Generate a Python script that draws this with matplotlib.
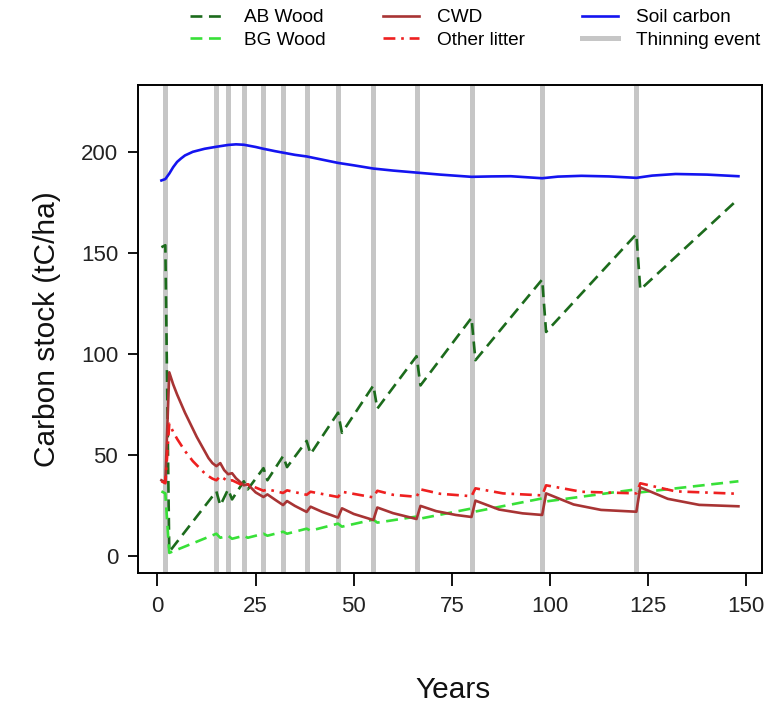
import matplotlib
matplotlib.use('Agg')
import matplotlib.pyplot as plt
from matplotlib.lines import Line2D

plt.rcParams['font.family'] = ['Liberation Sans', 'DejaVu Sans']

# thinning / harvest years
thinning_years = [2, 15, 18, 22, 27, 32, 38, 46, 55, 66, 80, 98, 122]

# above-ground wood (tC/ha)
ab_years = [1, 2, 3, 15, 16, 18, 19, 22, 23, 27, 28, 32, 33, 38, 39, 46, 47,
            55, 56, 66, 67, 80, 81, 98, 99, 122, 123, 148]
ab_wood = [153, 154, 2, 32, 25, 33, 28, 37, 33, 43.5, 37.5, 49.5, 44, 57, 50.5,
           71, 61, 84.5, 73, 99, 84.5, 118, 97, 137, 111, 159.5, 132, 177]

# below-ground wood (tC/ha)
bg_years = ab_years
bg_wood = [32, 31, 1.5, 11, 9, 10, 8.5, 10, 9, 11, 10, 12, 11, 13.5, 12.5,
           16, 14.5, 18, 16.5, 19.5, 18.5, 23.5, 22, 28.5, 27, 33, 31.5, 37]

# coarse woody debris (tC/ha)
cwd_years = [1, 2, 3, 4, 5, 6, 7, 8, 9, 10, 11, 12, 13, 14, 15, 16, 17, 18, 19,
             20, 22, 23, 25, 27, 28, 30, 32, 33, 35, 38, 39, 42, 46, 47, 50, 55,
             56, 60, 66, 67, 71, 76, 80, 81, 87, 93, 98, 99, 106, 113, 122, 123,
             130, 138, 148]
cwd = [37.5, 36.5, 91, 85, 80, 75.5, 71, 67, 63, 59, 55.5, 52, 48.5, 46,
       44.5, 46, 42.5, 40.5, 41, 38.5, 35, 35.5, 31.5, 29.2, 30.5, 27.8, 25.2,
       27.2, 24.8, 21.8, 24.4, 21.8, 19, 23.6, 20.8, 17.8, 24, 21.2, 18.3, 24.8,
       22.2, 20.3, 19.3, 27.4, 23, 21.1, 20.3, 31, 25.5, 22.8, 21.9, 34, 28.3,
       25.3, 24.6]

# other litter (tC/ha)
lit_years = [1, 2, 3, 4, 5, 6, 7, 8, 9, 10, 11, 12, 13, 14, 15, 16, 18, 19, 22,
             23, 27, 28, 32, 33, 38, 39, 46, 47, 55, 56, 60, 66, 67, 72, 80, 81,
             88, 98, 99, 108, 122, 123, 132, 148]
litter = [37, 36, 65.5, 61.5, 58, 55, 52, 49.5, 47, 45, 43, 41, 39.5, 38.3,
          37.5, 39.5, 37, 37.5, 34.7, 35.5, 32.3, 33, 31.2, 32.5, 30.3, 31.8,
          29.2, 31.8, 29, 32.3, 30.3, 29.3, 33, 30.8, 29.6, 33.5, 31, 30, 35,
          31.8, 31, 36, 32, 30.8]

# soil carbon (tC/ha)
soil_years = [1, 2, 3, 4, 5, 6, 7, 9, 12, 15, 18, 20, 22, 25, 27, 30, 35, 38,
              42, 46, 50, 55, 60, 66, 72, 80, 85, 90, 98, 102, 108, 115, 122,
              126, 132, 140, 148]
soil = [186.1, 186.8, 189.5, 192.7, 195.3, 197, 198.5, 200.3, 201.8, 202.8,
        203.7, 204, 203.8, 202.7, 201.8, 200.6, 198.8, 198, 196.4, 194.8, 193.6,
        192, 191, 190, 189, 187.9, 188.1, 188.2, 187.2, 188, 188.4, 188.1, 187.4,
        188.5, 189.3, 189, 188.2]

fig = plt.figure(figsize=(7.78, 7.08), dpi=100)
ax = fig.add_axes([0.1778, 0.1903, 0.9788 - 0.1778, 0.8799 - 0.1903])

grey = '#c6c6c6'
for yr in thinning_years:
    ax.axvline(yr, color=grey, lw=3.6, zorder=1)

lw = 1.9
ab_line, = ax.plot(ab_years, ab_wood, color='#1c6b1c', lw=lw, dashes=(4.5, 2.5), zorder=3)
bg_line, = ax.plot(bg_years, bg_wood, color='#38e038', lw=lw, dashes=(4.5, 2.5), zorder=3)
cwd_line, = ax.plot(cwd_years, cwd, color='#a83434', lw=lw, zorder=3)
lit_line, = ax.plot(lit_years, litter, color='#ee2020', lw=lw,
                    dashes=(4.5, 2.2, 1, 2.2), zorder=3)
soil_line, = ax.plot(soil_years, soil, color='#1414f0', lw=lw, zorder=4)
thin_handle = Line2D([], [], color=grey, lw=3.6)

ax.set_xlim(-4.88, 153.88)
ax.set_ylim(-8.6, 233.4)
ax.set_xticks([0, 25, 50, 75, 100, 125, 150])
ax.set_yticks([0, 50, 100, 150, 200])
ax.tick_params(axis='x', length=9.5, width=1.3, pad=7, labelsize=16,
               labelcolor='#222222')
ax.tick_params(axis='y', length=7.5, width=1.3, pad=7, labelsize=16,
               labelcolor='#222222')
for sp in ax.spines.values():
    sp.set_linewidth(1.4)

ax.set_ylabel('Carbon stock (tC/ha)', fontsize=21.5, color='#111111')
ax.yaxis.label.set_va('center')
ax.yaxis.set_label_coords(-0.147, 0.5)
ax.set_xlabel('Years', fontsize=21.5, color='#111111')
ax.xaxis.label.set_va('center')
ax.xaxis.set_label_coords(0.505, -0.24)

fig.legend([ab_line, bg_line, cwd_line, lit_line, soil_line, thin_handle],
           ['AB Wood', 'BG Wood', 'CWD', 'Other litter', 'Soil carbon',
            'Thinning event'],
           ncol=3, frameon=False, fontsize=13.7, loc='upper left',
           bbox_to_anchor=(189.7 / 778, 1 - 9 / 708), borderpad=0,
           borderaxespad=0, handlelength=1.9, handletextpad=0.95,
           columnspacing=3.0, labelspacing=0.26)

fig.savefig('out.png', dpi=100)
